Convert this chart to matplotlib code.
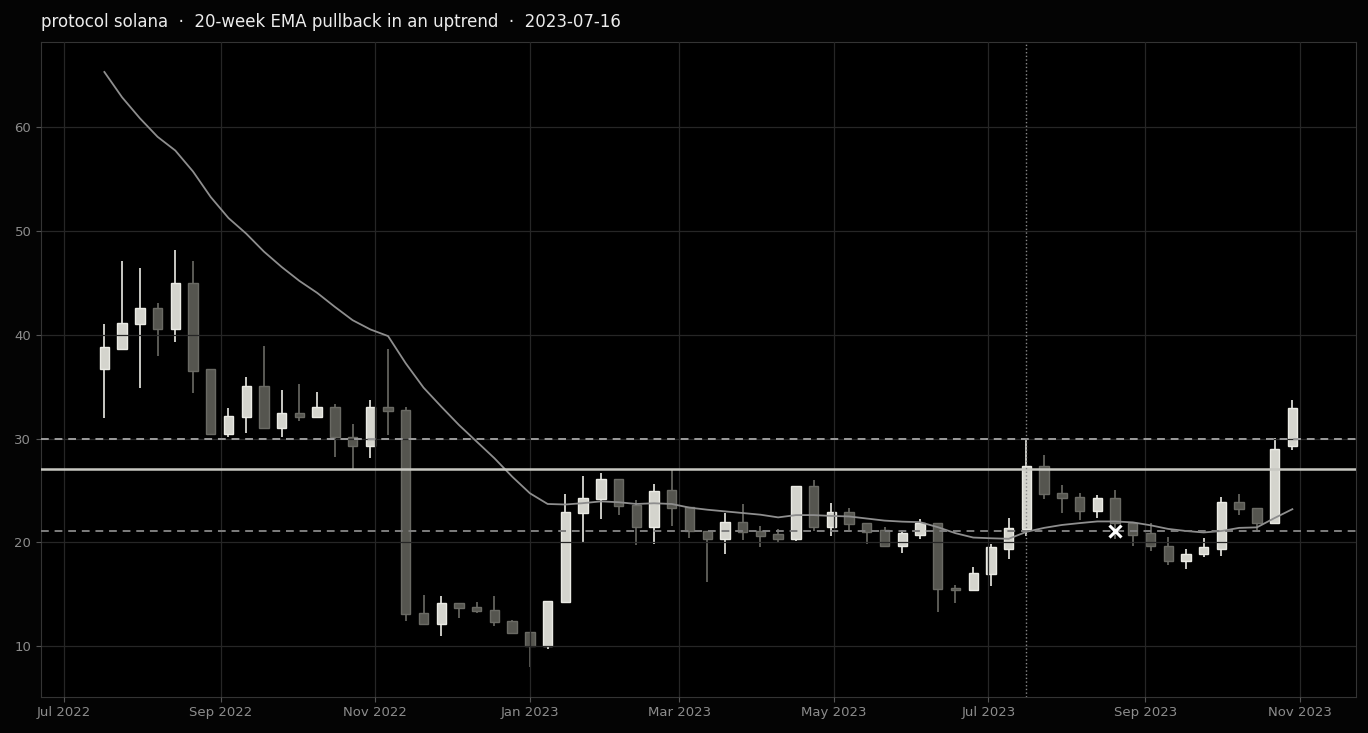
import matplotlib
matplotlib.use("Agg")
import matplotlib.pyplot as plt
import matplotlib.dates as mdates
import pandas as pd

# weekly candles, one per sunday
weeks = pd.date_range("2022-07-17", periods=68, freq="7D")

opens = [36.66, 38.64, 40.98, 42.52, 40.56, 45.01, 36.66, 30.42, 32.05, 35.02,
         30.99, 32.43, 32.05, 33.0, 30.19, 29.26, 33.0, 32.74, 13.22, 12.16,
         14.18, 13.8, 13.51, 12.43, 11.38, 10.0, 14.28, 22.83, 24.17, 26.15,
         23.58, 21.47, 25.01, 23.38, 21.07, 20.3, 21.95, 21.07, 20.83, 20.3,
         25.46, 21.47, 22.93, 21.86, 21.18, 19.64, 20.69, 21.86, 15.6, 15.4,
         17.0, 19.38, 21.25, 27.4, 24.8, 24.35, 23.06, 24.26, 21.86, 20.89,
         19.64, 18.2, 18.84, 19.4, 23.87, 23.29, 21.86, 29.26]
highs = [40.98, 47.13, 46.42, 43.09, 48.18, 47.13, 36.7, 32.97, 35.89, 38.87,
         34.64, 35.22, 34.45, 33.3, 31.37, 33.68, 38.58, 33.0, 14.95, 14.82,
         14.18, 14.28, 14.82, 12.5, 11.38, 14.37, 24.62, 26.38, 26.67, 26.15,
         24.06, 25.6, 26.93, 23.38, 21.07, 22.83, 23.74, 21.57, 21.28, 25.46,
         25.98, 23.84, 23.28, 21.86, 21.47, 21.18, 22.25, 21.86, 15.95, 17.66,
         19.87, 22.34, 30.0, 28.4, 25.5, 24.73, 24.55, 25.06, 21.86, 21.86,
         20.5, 19.4, 20.4, 24.35, 24.64, 23.29, 30.08, 33.68]
lows = [31.95, 38.58, 34.83, 37.93, 39.25, 34.35, 30.4, 30.13, 30.51, 30.99,
        30.13, 31.66, 31.95, 28.2, 27.05, 28.1, 30.32, 12.47, 12.16, 10.95,
        12.77, 13.22, 11.98, 11.28, 8.0, 9.75, 14.28, 20.08, 22.3, 22.62,
        19.74, 19.84, 21.57, 20.4, 16.19, 18.86, 20.21, 19.52, 20.0, 20.1,
        21.07, 20.59, 21.18, 19.84, 19.64, 18.96, 20.3, 13.32, 14.2, 15.4,
        15.81, 18.42, 20.58, 24.17, 22.82, 22.2, 22.39, 20.3, 19.64, 19.16,
        17.81, 17.43, 18.64, 18.74, 22.6, 21.0, 21.86, 28.87]
closes = [38.77, 41.08, 42.52, 40.56, 45.01, 36.52, 30.42, 32.14, 35.02, 30.99,
          32.43, 32.05, 33.0, 30.13, 29.26, 33.0, 32.62, 13.12, 12.16, 14.18,
          13.7, 13.42, 12.36, 11.28, 10.0, 14.37, 22.93, 24.23, 26.15, 23.49,
          21.47, 24.98, 23.28, 21.07, 20.3, 21.95, 20.98, 20.59, 20.3, 25.46,
          21.47, 22.93, 21.76, 20.98, 19.64, 20.89, 21.86, 15.53, 15.45, 17.08,
          19.52, 21.38, 27.4, 24.7, 24.26, 23.06, 24.26, 21.86, 20.69, 19.64,
          18.2, 18.93, 19.52, 23.87, 23.19, 21.86, 29.03, 32.9]
ema20 = [65.28, 62.84, 60.83, 59.04, 57.72, 55.7, 53.24, 51.22, 49.72, 47.99,
         46.51, 45.17, 44.02, 42.67, 41.39, 40.5, 39.86, 37.23, 34.9, 33.07,
         31.3, 29.7, 28.1, 26.33, 24.73, 23.7, 23.65, 23.78, 23.95, 23.87,
         23.7, 23.77, 23.7, 23.35, 23.15, 22.99, 22.83, 22.67, 22.41, 22.63,
         22.63, 22.55, 22.5, 22.3, 22.1, 22.0, 21.95, 21.47, 20.89, 20.47,
         20.4, 20.35, 21.02, 21.4, 21.68, 21.86, 22.02, 22.02, 21.93, 21.65,
         21.3, 21.1, 20.96, 21.1, 21.4, 21.45, 22.35, 23.2]

signal_date = pd.Timestamp("2023-07-16")
entry = 27.08
target = 29.96
stop = 21.06
stop_hit_date = pd.Timestamp("2023-08-20")

fig = plt.figure(figsize=(13.68, 7.33), dpi=100, facecolor="#040404")
ax = fig.add_axes([0.030, 0.0495, 0.961, 0.893])
ax.set_facecolor("#000000")

# candles
up_face, up_edge = "#d4d4cd", "#ebebe5"
dn_face, dn_edge = "#55554f", "#6a6a64"
for d, o, h, l, c in zip(weeks, opens, highs, lows, closes):
    x = mdates.date2num(d)
    if c >= o:
        face, edge = up_face, up_edge
    else:
        face, edge = dn_face, dn_edge
    ax.vlines(x, l, h, color=edge, linewidth=1.2, zorder=1)
    bottom = min(o, c)
    height = max(abs(c - o), 0.15)
    ax.bar(x, height, bottom=bottom, width=3.7, color=face, edgecolor=edge,
           linewidth=1.0, zorder=1.5)

ax.plot(weeks, ema20, color="#8e8e8e", linewidth=1.3, zorder=3)

ax.axhline(target, color="#9c9c9c", linewidth=1.4, linestyle=(0, (4, 3)), zorder=3)
ax.axhline(entry, color="#c8c8c2", linewidth=1.8, zorder=3)
ax.axhline(stop, color="#7e7e7e", linewidth=1.4, linestyle=(0, (4, 3)), zorder=3)
ax.axvline(signal_date, color="#8a8a8a", linewidth=1.0, linestyle=":", zorder=3)
ax.plot([stop_hit_date], [stop], marker="x", color="#ffffff", markersize=9,
        markeredgewidth=2.2, linestyle="none", zorder=5)

ax.set_xlim(mdates.date2num(pd.Timestamp("2022-06-22")),
            mdates.date2num(pd.Timestamp("2023-11-23")))
ax.set_ylim(5.15, 68.15)

ax.xaxis.set_major_locator(mdates.MonthLocator(bymonth=[1, 3, 5, 7, 9, 11]))
ax.xaxis.set_major_formatter(mdates.DateFormatter("%b %Y"))
ax.set_yticks([10, 20, 30, 40, 50, 60])

ax.set_axisbelow(False)
ax.grid(True, color="#262626", linewidth=0.9)
for s in ax.spines.values():
    s.set_color("#343434")
ax.tick_params(colors="#555555", labelcolor="#8c8c8c", labelsize=9.5)

ax.set_title("protocol solana  ·  20-week EMA pullback in an uptrend  ·  2023-07-16",
             loc="left", color="#ececec", fontsize=12, pad=11)

fig.savefig("out.png", dpi=100, facecolor=fig.get_facecolor())
